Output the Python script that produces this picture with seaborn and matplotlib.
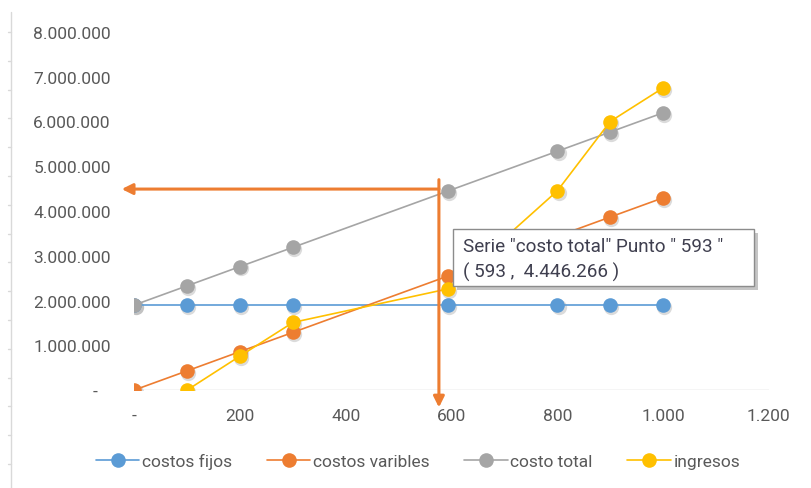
import matplotlib
matplotlib.use("Agg")
import matplotlib.pyplot as plt
import matplotlib.transforms as mtransforms
from matplotlib.lines import Line2D
from matplotlib.patches import Rectangle
import pandas as pd
import seaborn as sns

# ---- data -------------------------------------------------------------
units = [0, 100, 200, 300, 593, 800, 900, 1000]
costos_fijos = [1_900_000] * 8
costos_varibles = [0, 429_000, 859_000, 1_288_000, 2_546_266, 3_435_000, 3_865_000, 4_294_000]
costo_total = [1_900_000, 2_329_000, 2_759_000, 3_188_000, 4_446_266, 5_335_000, 5_765_000, 6_194_000]
units_ingresos = [100, 200, 300, 593, 800, 900, 1000]
ingresos = [0, 760_000, 1_510_000, 2_260_000, 4_450_000, 6_000_000, 6_750_000]

series_names = ["costos fijos", "costos varibles", "costo total", "ingresos"]
series_colors = ["#5B9BD5", "#ED7D31", "#A5A5A5", "#FFC000"]

x_ticks = [0, 200, 400, 600, 800, 1000, 1200]
y_ticks = [0, 1_000_000, 2_000_000, 3_000_000, 4_000_000, 5_000_000, 6_000_000, 7_000_000, 8_000_000]

# highlighted point shown in the hover box
tip_series = "costo total"
tip_units = 593
tip_value = 4_446_266

# hand-drawn guide arrows (data units)
guide_x = 576
guide_top = 4_700_000
guide_bottom = -390_000
guide_y = 4_490_000
guide_left = -24

ARROW_COLOR = "#ED7D31"
TEXT_COLOR = "#595959"


def fmt_num(v):
    if v == 0:
        return "-"
    return f"{v:,.0f}".replace(",", ".")


frames = [
    pd.DataFrame({"unidades": units, "valor": costos_fijos, "serie": series_names[0]}),
    pd.DataFrame({"unidades": units, "valor": costos_varibles, "serie": series_names[1]}),
    pd.DataFrame({"unidades": units, "valor": costo_total, "serie": series_names[2]}),
    pd.DataFrame({"unidades": units_ingresos, "valor": ingresos, "serie": series_names[3]}),
]
df = pd.concat(frames, ignore_index=True)

# ---- figure -----------------------------------------------------------
sns.set_theme(style="white")
plt.rcParams["font.family"] = ["Roboto", "DejaVu Sans"]

W, H = 812, 489
fig = plt.figure(figsize=(W / 100, H / 100), dpi=100)
fig.patch.set_facecolor("white")
ax = fig.add_axes([134.4 / W, 1 - 391 / H, (768.8 - 134.4) / W, (391 - 33) / H])

# soft drop shadows under the markers
shadow = mtransforms.offset_copy(ax.transData, fig=fig, x=1.2, y=-1.8, units="dots")
for name in series_names:
    sub = df[df["serie"] == name]
    ax.plot(sub["unidades"], sub["valor"], linestyle="none", marker="o",
            markersize=11, color="#8a8a8a", alpha=0.3, markeredgewidth=0,
            transform=shadow, zorder=1)

sns.lineplot(data=df, x="unidades", y="valor", hue="serie", hue_order=series_names,
             palette=series_colors, marker="o", markersize=10.5, markeredgewidth=0,
             linewidth=1.2, sort=True, estimator=None, legend=False, ax=ax, zorder=3)

ax.set_xlim(0, 1200)
ax.set_ylim(0, 8_000_000)
for s in ax.spines.values():
    s.set_visible(False)
ax.axhline(0, color="#D0D0D0", linewidth=1.0, zorder=0)

ax.set_xticks(x_ticks)
ax.set_yticks(y_ticks)
ax.set_xticklabels([fmt_num(v) for v in x_ticks])
ax.set_yticklabels([fmt_num(v) + ("   " if v == 0 else "") for v in y_ticks])
ax.tick_params(axis="both", length=0, labelsize=12.5, labelcolor=TEXT_COLOR)
ax.tick_params(axis="y", pad=17)
ax.tick_params(axis="x", pad=13)
ax.set_xlabel("")
ax.set_ylabel("")
ax.grid(False)

# guide arrows
ax.annotate("", xy=(guide_x, guide_bottom), xytext=(guide_x, guide_top),
            arrowprops=dict(arrowstyle="-|>", color=ARROW_COLOR, lw=2.2,
                            mutation_scale=16, shrinkA=0, shrinkB=0),
            annotation_clip=False, zorder=6)
ax.annotate("", xy=(guide_left, guide_y), xytext=(guide_x, guide_y),
            arrowprops=dict(arrowstyle="-|>", color=ARROW_COLOR, lw=2.2,
                            mutation_scale=16, shrinkA=0, shrinkB=0),
            annotation_clip=False, zorder=6)

# hover box for the highlighted point
bx0, by0, bx1, by1 = 453, 230, 754, 287
fig.patches.append(Rectangle(((bx0 + 4) / W, 1 - (by1 + 4) / H), (bx1 - bx0) / W, (by1 - by0) / H,
                             transform=fig.transFigure, facecolor="#7f7f7f", alpha=0.45,
                             edgecolor="none", zorder=8))
fig.patches.append(Rectangle((bx0 / W, 1 - by1 / H), (bx1 - bx0) / W, (by1 - by0) / H,
                             transform=fig.transFigure, facecolor="white",
                             edgecolor="#8c8c8c", linewidth=1.0, zorder=9))
fig.text(463 / W, 1 - 247 / H, f'Serie "{tip_series}" Punto " {tip_units} "',
         ha="left", va="center", fontsize=13.6, color="#3f3f4f", zorder=10)
fig.text(463 / W, 1 - 272 / H, f"( {tip_units} ,  {fmt_num(tip_value)} )",
         ha="left", va="center", fontsize=13.6, color="#3f3f4f", zorder=10)

# legend
handles = [Line2D([0], [0], color=c, marker="o", markersize=10.5, markeredgewidth=0,
                  linewidth=1.2) for c in series_colors]
fig.legend(handles, series_names, loc="center", bbox_to_anchor=(418 / W, 1 - 462 / H),
           ncol=4, frameon=False, fontsize=12.5, labelcolor=TEXT_COLOR,
           handlelength=2.5, handletextpad=0.15, columnspacing=2.0)

# left edge ruler
fig.add_artist(Line2D([11.5 / W, 11.5 / W], [0, 1 - 13 / H], transform=fig.transFigure,
                      color="#D9D9D9", linewidth=1.0))
tick_y = 33.0
while tick_y < H:
    fig.add_artist(Line2D([8.5 / W, 11.5 / W], [1 - tick_y / H, 1 - tick_y / H],
                          transform=fig.transFigure, color="#D9D9D9", linewidth=1.0))
    tick_y += 28.8

fig.savefig("out.png", dpi=100, facecolor="white")
